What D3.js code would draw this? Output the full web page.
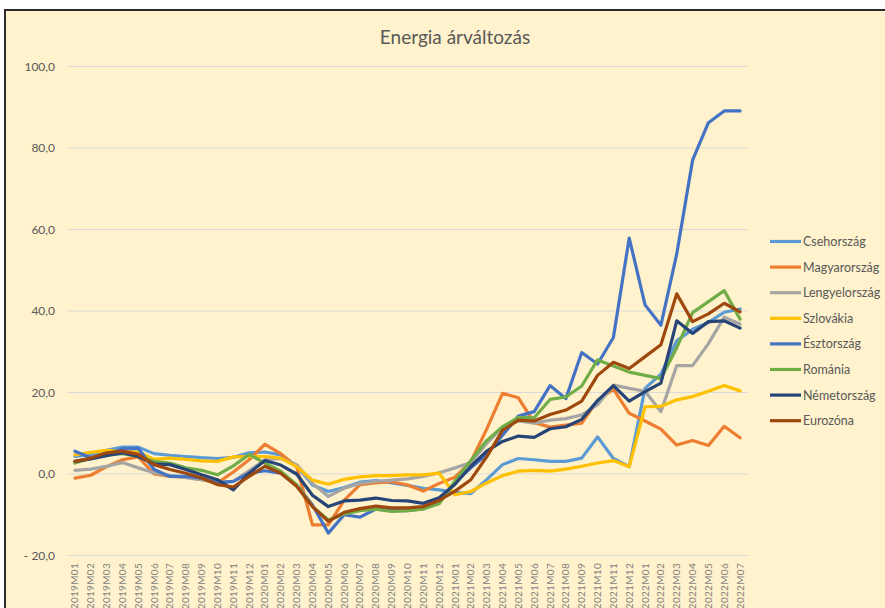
<!DOCTYPE html>
<html>
<head>
<meta charset="utf-8">
<script src="https://cdn.jsdelivr.net/npm/d3@7"></script>
<style>
  body { margin: 0; background: #fff; }
  svg { display: block; font-family: Lato, "Open Sans", sans-serif; }
</style>
</head>
<body>
<svg id="chart" width="885" height="608"></svg>
<script>
const months = [
  "2019M01","2019M02","2019M03","2019M04","2019M05","2019M06","2019M07","2019M08","2019M09","2019M10","2019M11","2019M12",
  "2020M01","2020M02","2020M03","2020M04","2020M05","2020M06","2020M07","2020M08","2020M09","2020M10","2020M11","2020M12",
  "2021M01","2021M02","2021M03","2021M04","2021M05","2021M06","2021M07","2021M08","2021M09","2021M10","2021M11","2021M12",
  "2022M01","2022M02","2022M03","2022M04","2022M05","2022M06","2022M07"
]

const yTicks = [-20, 0, 20, 40, 60, 80, 100]

const countries = ["Csehország","Magyarország","Lengyelország","Szlovákia","Észtország","Románia","Németország","Eurozóna"]
const colors = ["#5B9BD5","#ED7D31","#A5A5A5","#FFC000","#4472C4","#70AD47","#264478","#9E480E"]

const cz = [4.3,4.8,5.8,6.6,6.6,5.0,4.6,4.3,4.0,3.8,4.1,5.2,5.4,4.7,2.0,-2.7,-4.3,-3.3,-2.0,-1.6,-2.2,-2.8,-3.5,-3.9,-4.5,-4.8,-1.4,2.3,3.8,3.5,3.1,3.1,3.9,9.1,3.8,1.8,21.0,24.5,32.7,35.5,37.2,39.7,40.5]
const hu = [-1.0,-0.3,1.8,3.5,4.2,0.0,-0.6,-0.8,-1.4,-2.2,0.5,3.5,7.3,5.0,1.8,-12.5,-12.5,-6.5,-2.6,-2.2,-1.9,-2.7,-4.2,-2.3,-0.8,3.0,11.0,19.8,18.7,12.6,11.5,12.0,12.5,18.0,20.8,14.9,13.0,11.0,7.1,8.2,7.0,11.7,8.9]
const pl = [0.9,1.2,1.9,2.8,1.5,0.3,-0.4,-0.9,-1.4,-2.0,-1.8,0.8,3.5,3.8,2.3,-2.3,-5.5,-3.5,-2.3,-1.8,-1.5,-1.2,-0.6,0.3,1.5,2.8,7.5,11.5,13.0,12.5,13.2,13.6,14.5,17.0,21.8,21.0,20.3,15.3,26.6,26.6,32.0,38.5,36.8]
const sk = [4.7,5.3,5.8,5.5,5.4,3.6,3.9,3.6,3.2,3.1,4.2,4.3,4.3,3.9,1.8,-1.5,-2.5,-1.3,-0.7,-0.4,-0.4,-0.2,-0.2,0.2,-5.1,-4.3,-2.2,-0.4,0.7,0.9,0.7,1.2,1.9,2.7,3.3,1.8,16.5,16.6,18.2,19.0,20.3,21.7,20.4]
const ee = [5.6,4.0,4.6,6.2,6.3,1.1,-0.6,-0.6,-1.0,-2.2,-1.8,0.2,0.8,0.2,-2.7,-7.6,-14.5,-10.0,-10.6,-8.6,-9.0,-9.0,-8.5,-7.0,-2.0,1.5,4.8,9.5,14.2,15.3,21.7,18.5,29.8,27.0,33.5,57.9,41.5,36.5,54.0,77.0,86.2,89.1,89.1]
const ro = [2.7,3.9,4.8,5.0,4.3,3.1,2.7,1.5,0.9,-0.2,2.0,4.8,2.7,0.7,-2.6,-8.0,-11.3,-9.8,-9.0,-8.6,-9.2,-9.0,-8.6,-7.3,-1.7,3.3,8.2,11.6,13.9,13.8,18.3,18.9,21.6,28.0,26.5,25.0,24.2,23.4,31.0,39.6,42.3,45.0,38.0]
const de = [3.1,3.7,4.5,5.2,4.3,2.5,2.3,1.1,-0.2,-1.4,-3.9,0.2,3.3,2.2,0.0,-5.2,-8.0,-6.6,-6.4,-5.9,-6.5,-6.6,-7.2,-5.8,-2.5,1.9,5.6,8.0,9.3,9.0,11.1,11.6,13.4,18.0,21.7,17.9,20.2,22.3,37.6,34.5,37.4,37.6,35.8]
const ez = [3.1,3.9,5.2,5.6,4.8,2.3,1.1,0.2,-1.0,-2.6,-3.2,-0.6,1.9,0.2,-3.0,-8.0,-11.6,-9.4,-8.5,-7.9,-8.3,-8.3,-8.0,-6.5,-4.2,-1.4,4.2,10.7,13.2,13.0,14.6,15.7,17.9,24.2,27.4,25.9,28.8,31.7,44.2,37.4,39.3,41.9,39.8]

const seriesValues = [cz, hu, pl, sk, ee, ro, de, ez]

let svg = d3.select("#chart")

// chart area with dark frame (cut off at right/bottom like the screenshot)
svg.append("rect")
  .attr("x", 5).attr("y", 10)
  .attr("width", 890).attr("height", 610)
  .attr("fill", "#FFF2CC")
  .attr("stroke", "#2b2b2b")
  .attr("stroke-width", 2)

svg.append("text")
  .attr("x", 455).attr("y", 44)
  .attr("text-anchor", "middle")
  .attr("font-size", 19)
  .attr("fill", "#595959")
  .text("Energia árváltozás")

let x = d3.scalePoint().domain(months).range([67, 748]).padding(0.5)
let y = d3.scaleLinear().domain([-20, 100]).range([555.5, 66.5])

function fmt(v) {
  let s = d3.format(".1f")(Math.abs(v)).replace(".", ",")
  return v < 0 ? "- " + s : s
}

// gridlines
svg.append("g")
  .selectAll("line")
  .data(yTicks)
  .join("line")
  .attr("x1", 67).attr("x2", 748)
  .attr("y1", d => y(d)).attr("y2", d => y(d))
  .attr("stroke", "#D9D9D9")
  .attr("stroke-width", 1)

// y labels
svg.append("g")
  .selectAll("text")
  .data(yTicks)
  .join("text")
  .attr("x", 55)
  .attr("y", d => y(d) + 4)
  .attr("text-anchor", "end")
  .attr("font-size", 12)
  .attr("fill", "#595959")
  .text(fmt)

// x labels (rotated)
svg.append("g")
  .selectAll("text")
  .data(months)
  .join("text")
  .attr("transform", d => `translate(${x(d) + 3.5},563) rotate(-90)`)
  .attr("text-anchor", "end")
  .attr("font-size", 10)
  .attr("letter-spacing", 0.3)
  .attr("fill", "#7f7f7f")
  .text(d => d)

let line = d3.line()
  .x((d, i) => x(months[i]))
  .y(d => y(d))

svg.append("g")
  .selectAll("path")
  .data(seriesValues)
  .join("path")
  .attr("d", d => line(d))
  .attr("fill", "none")
  .attr("stroke", (d, i) => colors[i])
  .attr("stroke-width", 3.2)
  .attr("stroke-linejoin", "round")
  .attr("stroke-linecap", "round")

// legend
let leg = svg.append("g")
  .selectAll("g")
  .data(countries)
  .join("g")
  .attr("transform", (d, i) => `translate(770,${241.5 + i * 25.6})`)

leg.append("line")
  .attr("x1", 0).attr("x2", 31)
  .attr("stroke", (d, i) => colors[i])
  .attr("stroke-width", 3.2)

leg.append("text")
  .attr("x", 33).attr("y", 4.5)
  .attr("font-size", 12.5)
  .attr("fill", "#595959")
  .text(d => d)
</script>
</body>
</html>
